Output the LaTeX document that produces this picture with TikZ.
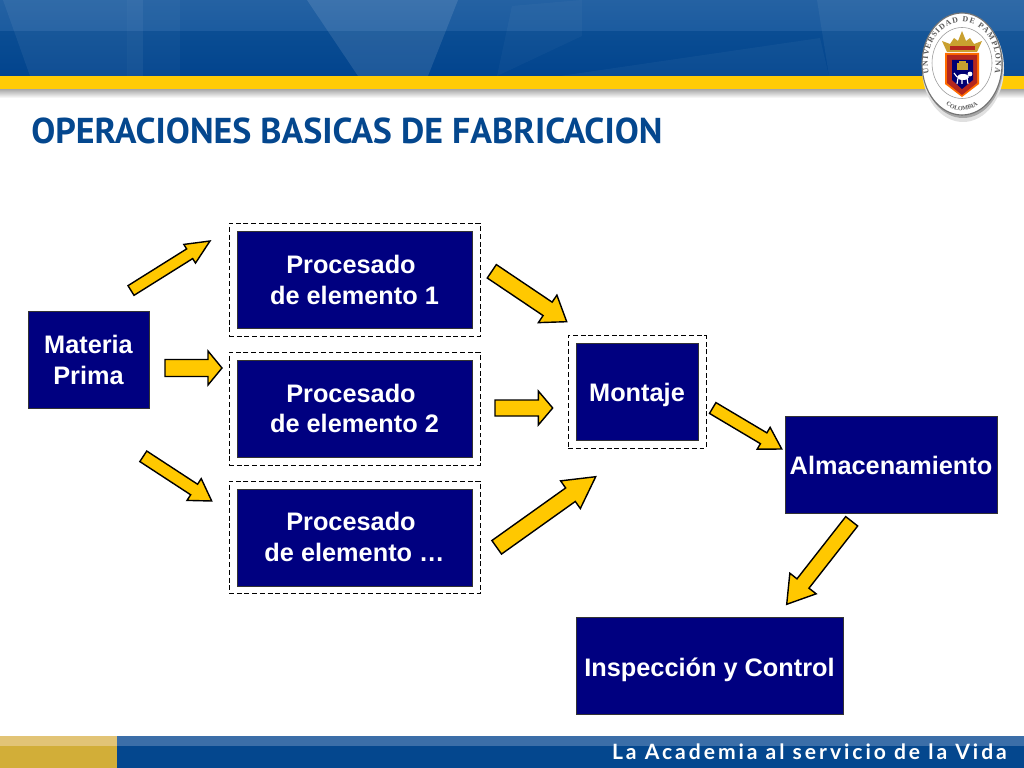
\documentclass[tikz,border=0pt]{standalone}
\usepackage{fontspec}
\setmainfont{Liberation Sans}
\newfontfamily\titlefont{PT Sans}
\newfontfamily\footfont[LetterSpace=14]{Lato}
\newfontfamily\sealfont{Liberation Serif}
\usetikzlibrary{calc, fit, positioning, decorations.text}

\definecolor{boxnavy}{HTML}{000080}
\definecolor{arrowgold}{HTML}{FFC800}
\definecolor{bandblue}{HTML}{0A4D93}
\definecolor{bandlow}{HTML}{02448E}
\definecolor{bandtop}{HTML}{1B5B9F}
\definecolor{bandgold}{HTML}{FFCB05}
\definecolor{footgold}{HTML}{D2AE38}
\definecolor{footgoldtop}{HTML}{E2C476}
\definecolor{footblue}{HTML}{04478E}
\definecolor{foottop}{HTML}{3B6EA8}
\definecolor{titleblue}{HTML}{04478E}
\definecolor{sealred}{HTML}{B3261E}
\definecolor{sealgold}{HTML}{C9A02F}

\tikzset{
    stepbox/.style   = {draw=black!80, fill=boxnavy, text=white, font=\bfseries\fontsize{18}{22}\selectfont, align=center, line width=0.5pt, minimum height=2.425cm},
    dashbox/.style   = {draw=black, dash pattern=on 3.5pt off 2pt, line width=0.5pt, inner sep=0.19cm},
    blockarrow/.style = {draw=black, fill=arrowgold, line width=1pt, line join=miter},
    facet/.style     = {fill=white, draw=none}
}
\def\pxlen{0.7113pt}
\newcommand{\blockarrow}[5]{%
    \coordinate (hb) at ($(#2)!#5*\pxlen!(#1)$);
    \draw[blockarrow] ($(#1)!#3*\pxlen!90:(#2)$) -- ($(hb)!#3*\pxlen!90:(#2)$) -- ($(hb)!#4*\pxlen!90:(#2)$) -- (#2)
        -- ($(hb)!#4*\pxlen!-90:(#2)$) -- ($(hb)!#3*\pxlen!-90:(#2)$) -- ($(#1)!#3*\pxlen!-90:(#2)$) -- cycle;
}

\begin{document}
\begin{tikzpicture}[x=0.025cm, y=-0.025cm, node distance=0.78cm]
    \useasboundingbox (0,0) rectangle (1024,768);

    % header band
    \shade[top color=bandtop!96!white, bottom color=bandtop] (0,0) rectangle (1024,32);
    \shade[top color=bandblue, bottom color=bandlow] (0,32) rectangle (1024,76);
    \fill[facet, opacity=0.06] (3,0) -- (127,0) -- (127,76) -- (30,76) -- cycle;
    \fill[facet, opacity=0.08] (127,0) -- (143,0) -- (143,76) -- (127,76) -- cycle;
    \fill[facet, opacity=0.03] (143,0) -- (180,0) -- (180,76) -- (143,76) -- cycle;
    \fill[facet, opacity=0.11] (307,0) -- (458,0) -- (428,76) -- (358,76) -- cycle;
    \fill[facet, opacity=0.03] (512,6) -- (582,0) -- (582,36) -- (497,76) -- cycle;
    \fill[facet, opacity=0.05] (817,0) -- (1024,0) -- (1024,76) -- (829,76) -- cycle;
    \fill[facet, opacity=0.04] (560,76) -- (820,38) -- (829,76) -- cycle;
    \shade[top color=black!35, bottom color=white] (0,89) rectangle (1024,98);
    \fill[bandgold] (0,76) rectangle (1024,89);

    % seal
    \fill[black!12] (963,68) ellipse (41 and 54);
    \fill[black!35] (963,66) ellipse (40 and 52);
    \draw[fill=white, draw=black!55, line width=0.8pt] (962,64) ellipse (40 and 51);
    \draw[black!40, line width=0.4pt] (962,63) ellipse (30 and 35.5);
    \path[decorate, decoration={text along path, text align={fit to path}, text={|\sealfont\bfseries\fontsize{5.6}{6}\selectfont\color{black!65}|UNIVERSIDAD DE PAMPLONA}}]
        (929,73) arc[start angle=165, end angle=375, x radius=34, y radius=40.5];
    \path[decorate, decoration={text along path, text align=center, text={|\sealfont\bfseries\fontsize{4.4}{5}\selectfont\color{black!65}|COLOMBIA}}]
        (943,102) arc[start angle=125, end angle=55, x radius=33, y radius=47];
    % crown
    \fill[sealgold] (947,52) -- (942,41) -- (950,44) -- (954,38) -- (958,41) -- (962,31) -- (966,41) -- (970,38) -- (974,44) -- (982,41) -- (977,52) -- cycle;
    \fill[sealred] (950,46) rectangle (975,50);
    % shield
    \fill[orange!85!red] (945,53) -- (979,53) -- (979,84) -- (962,97) -- (945,84) -- cycle;
    \fill[sealred] (947,55) -- (977,55) -- (977,83) -- (962,95) -- (947,83) -- cycle;
    \fill[boxnavy!90!black] (952,60) -- (973,60) -- (973,80) -- (962,89) -- (952,80) -- cycle;
    \fill[sealgold] (957,63) rectangle (968,70);
    \fill[sealgold] (959,61) rectangle (966,63);
    \fill[white] (963,77) ellipse (6 and 3);
    \fill[white] (970,74) circle (2.4);
    \draw[white, line width=0.8pt] (958,78) -- (957,84) (962,79) -- (962,84) (967,78) -- (968,84) (957,77) -- (954,73);

    % title
    \node[anchor=west, inner sep=0pt, text=titleblue, font=\titlefont\bfseries\fontsize{25.55}{30}\selectfont] (title) at (31,131) {OPERACIONES BASICAS DE FABRICACION};

    % footer
    \fill[footgoldtop] (0,736) rectangle (117,746);
    \fill[footgold] (0,746) rectangle (117,768);
    \fill[foottop] (117,736) rectangle (1024,746);
    \fill[footblue] (117,746) rectangle (1024,768);
    \node[anchor=east, inner sep=0pt, text=white, font=\footfont\bfseries\fontsize{15}{17}\selectfont] (motto) at (1007,752) {La Academia al servicio de la Vida};

    % boxes
    \node[stepbox, minimum width=3.025cm]			(materia)	at (88.5,359.5)		{Materia\\Prima};
    \node[stepbox, minimum width=5.875cm]			(proc1)		at (354.5,279.5)	{Procesado\ \mbox{}\\de elemento 1};
    \node[stepbox, minimum width=5.875cm]			(proc2)		[below=of proc1]	{Procesado\ \mbox{}\\de elemento 2};
    \node[stepbox, minimum width=5.875cm]			(proc3)		[below=of proc2]	{Procesado\ \mbox{}\\de elemento …};
    \node[stepbox, minimum width=3.05cm, text depth=0pt]	(montaje)	at (637,392)		{Montaje};
    \node[stepbox, minimum width=5.25cm, text height=13.6pt, text depth=0pt]	(almacen)	at (891,464.5)		{Almacenamiento};
    \node[stepbox, minimum width=6.675cm, text height=14.8pt, text depth=0pt]	(control)	at (709.5,666)		{Inspección y Control};

    \node[dashbox, fit=(proc1)]		(dash1)	{};
    \node[dashbox, fit=(proc2)]		(dash2)	{};
    \node[dashbox, fit=(proc3)]		(dash3)	{};
    \node[dashbox, fit=(montaje)]	(dash4)	{};

    % arrow ends
    \coordinate (s1) at (131,290.5);	\coordinate (e1) at (210,241);
    \coordinate (s2) at (165,368);		\coordinate (e2) at (222,368);
    \coordinate (s3) at (143.3,456.3);	\coordinate (e3) at (211.7,501);
    \coordinate (s4) at (491.8,271.3);	\coordinate (e4) at (566.7,321.7);
    \coordinate (s5) at (495,408);		\coordinate (e5) at (552.7,408);
    \coordinate (s6) at (496.7,547.3);	\coordinate (e6) at (595.7,476.7);
    \coordinate (s7) at (712.7,408);	\coordinate (e7) at (781.7,449);
    \coordinate (s8) at (851.7,521.3);	\coordinate (e8) at (786.7,604.3);

    \blockarrow{s1}{e1}{5.7}{11}{24}
    \blockarrow{s2}{e2}{8.5}{17}{14}
    \blockarrow{s3}{e3}{6.3}{13}{21}
    \blockarrow{s4}{e4}{8.1}{16.6}{23}
    \blockarrow{s5}{e5}{8}{17}{14.4}
    \blockarrow{s6}{e6}{8.3}{17}{31}
    \blockarrow{s7}{e7}{6.3}{12.7}{21}
    \blockarrow{s8}{e8}{7.6}{16.7}{26.4}
\end{tikzpicture}
\end{document}
